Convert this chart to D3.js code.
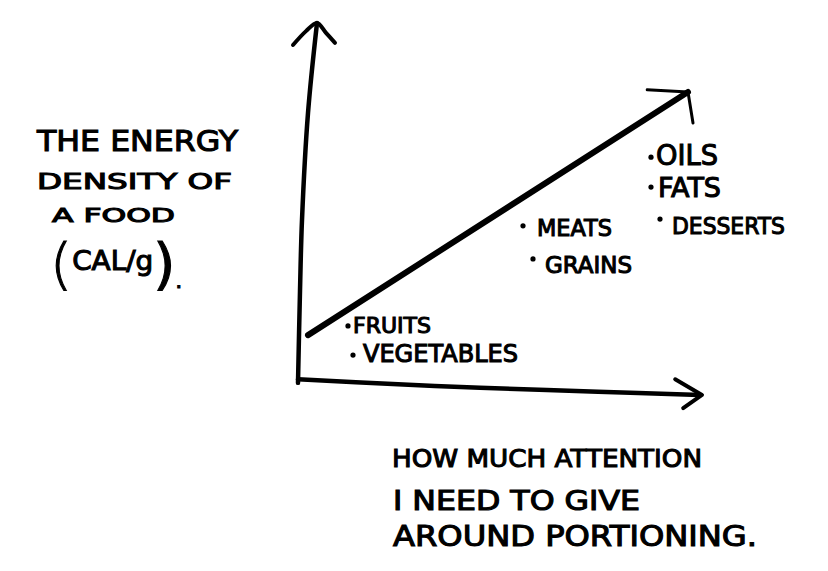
<!DOCTYPE html>
<html><head><meta charset="utf-8">
<script src="https://cdn.jsdelivr.net/npm/d3@7"></script>
<style>body{margin:0;background:#fff}svg{display:block}</style></head>
<body><svg id="c" width="828" height="571"></svg>
<script>
// ---- data ----
const foods = ["FRUITS","VEGETABLES","MEATS","GRAINS","OILS","FATS","DESSERTS"];
const attention = [1.25, 1.375, 5.625, 5.875, 8.825, 8.825, 9.05];
const density   = [1.52, 0.70, 4.33, 3.40, 6.26, 5.42, 4.52];
const trendAttention = [0.25, 9.75];
const trendDensity   = [1.26, 8.09];
const yTitleLines = ["THE ENERGY","DENSITY OF","A FOOD","(CAL/g)."];
const xTitleLines = ["HOW MUCH ATTENTION","I NEED TO GIVE","AROUND PORTIONING."];

// ---- layout / style ----
const svg = d3.select("#c");
const x = d3.scaleLinear().domain([0,10]).range([298,698]);
const y = d3.scaleLinear().domain([0,10]).range([380,24]);
const font = "'DejaVu Sans', sans-serif";
const ink = "#000";
const line = d3.line().x(d=>x(d[0])).y(d=>y(d[1]));
const curvy = d3.line().x(d=>x(d[0])).y(d=>y(d[1])).curve(d3.curveCatmullRom);

// hand-drawn axes (in data units)
const yAxisPath = [[0,-0.08],[0.05,2.5],[0.1,4.5],[0.25,7.5],[0.475,10.03]];
const xAxisPath = [[0,0.02],[2.5,-0.12],[4.55,-0.22],[7.5,-0.33],[10.05,-0.42]];
svg.append("path").attr("d",curvy(yAxisPath)).attr("fill","none").attr("stroke",ink).attr("stroke-width",4.5).attr("stroke-linecap","round");
svg.append("path").attr("d",curvy(xAxisPath)).attr("fill","none").attr("stroke",ink).attr("stroke-width",4.5).attr("stroke-linecap","round");
// arrowheads
svg.append("path").attr("d",curvy([[-0.125,9.41],[0.2,9.8],[0.475,10.03],[0.7,9.75],[0.925,9.47]]))
  .attr("fill","none").attr("stroke",ink).attr("stroke-width",4).attr("stroke-linecap","round").attr("stroke-linejoin","round");
svg.append("path").attr("d",line([[9.43,0.02],[10.1,-0.42],[9.63,-0.79]]))
  .attr("fill","none").attr("stroke",ink).attr("stroke-width",4).attr("stroke-linecap","round").attr("stroke-linejoin","round");

// trend line
const tr = trendAttention.map((a,i)=>[a,trendDensity[i]]);
svg.append("path").attr("d",line(tr)).attr("fill","none").attr("stroke",ink).attr("stroke-width",6).attr("stroke-linecap","round");
svg.append("path").attr("d",line([[8.73,8.15],[9.75,8.09],[9.875,7.22]]))
  .attr("fill","none").attr("stroke",ink).attr("stroke-width",3).attr("stroke-linecap","round").attr("stroke-linejoin","round");

// food labels
const labelSize = [21,24,23,23,29,27,23];
const labelLen  = [78,155,75,87,62,63,113];
const labelDx   = [5,10,14,12,5,7,12];
const labelDy   = [7,7,10,14,8,10,15];
const g = svg.append("g");
foods.forEach((f,i)=>{
  g.append("circle").attr("cx",x(attention[i])).attr("cy",y(density[i])).attr("r",2.6).attr("fill",ink);
  g.append("text").attr("x",x(attention[i])+labelDx[i]).attr("y",y(density[i])+labelDy[i])
    .attr("font-family",font).attr("font-size",labelSize[i]).attr("fill",ink)
    .attr("stroke",ink).attr("stroke-width",1.1)
    .attr("textLength",labelLen[i]).attr("lengthAdjust","spacingAndGlyphs").text(f);
});

// y title
const yT = [{x:37,y:151,s:29,l:201},{x:37,y:189,s:22,l:195},{x:52,y:222,s:20,l:123},{x:50,y:270,s:27,l:132}];
yTitleLines.forEach((t,i)=>{
  const tx = svg.append("text").attr("x",yT[i].x).attr("y",yT[i].y).attr("font-family",font).attr("font-size",yT[i].s)
    .attr("fill",ink).attr("stroke",ink).attr("stroke-width",1.1)
    .attr("textLength",yT[i].l).attr("lengthAdjust","spacingAndGlyphs");
  if (t.startsWith("(")) {
    // big hand-drawn parentheses
    const inner = t.slice(1, t.indexOf(")"));
    const rest = t.slice(t.indexOf(")")+1);
    tx.append("tspan").attr("font-size",55).attr("font-weight","300").attr("dy",13).text("(");
    tx.append("tspan").attr("dy",-13).text(inner);
    tx.append("tspan").attr("font-size",55).attr("dy",13).text(")");
    tx.append("tspan").attr("font-size",20).attr("dy",5).text(rest);
  } else tx.text(t);
});
// x title
const xT = [{x:392,y:467,s:25,l:310},{x:393,y:510,s:26,l:247},{x:393,y:546,s:28,l:364}];
xTitleLines.forEach((t,i)=>{
  svg.append("text").attr("x",xT[i].x).attr("y",xT[i].y).attr("font-family",font).attr("font-size",xT[i].s)
    .attr("fill",ink).attr("stroke",ink).attr("stroke-width",1.1)
    .attr("textLength",xT[i].l).attr("lengthAdjust","spacingAndGlyphs").text(t);
});
</script></body></html>
